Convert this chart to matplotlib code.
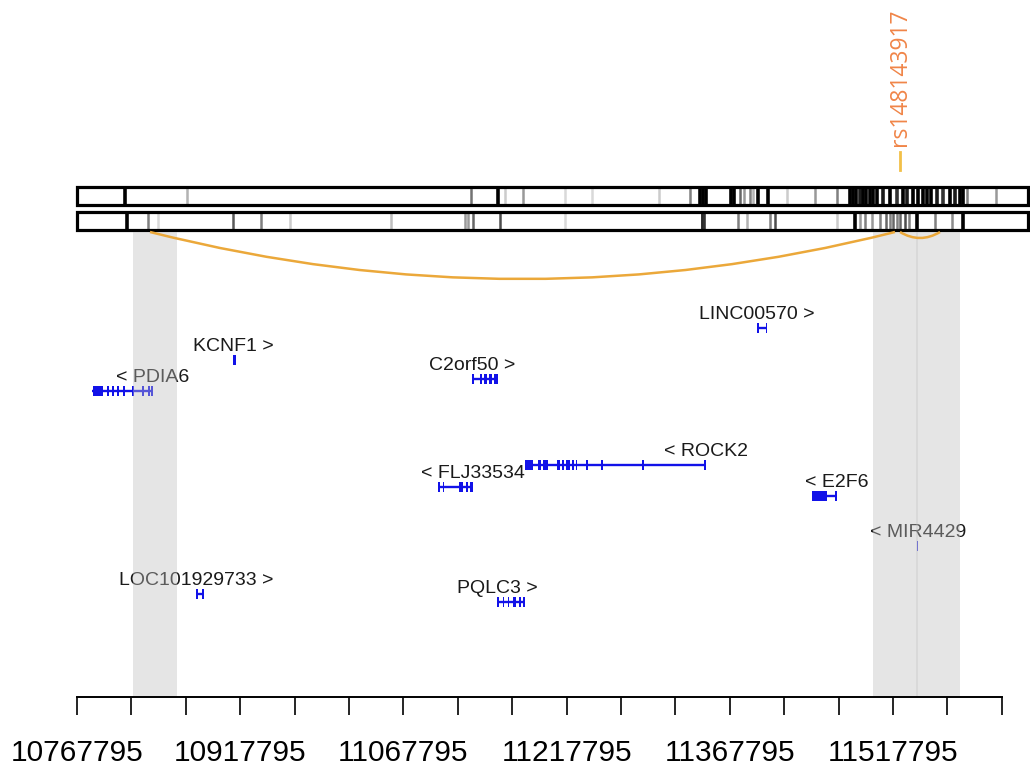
import matplotlib
matplotlib.use("Agg")
import matplotlib.pyplot as plt
from matplotlib.patches import Rectangle, PathPatch
from matplotlib.path import Path

plt.rcParams['font.family'] = ['Liberation Sans', 'DejaVu Sans']

# genomic window (chr2, bp)
axis_start = 10767795
axis_end = 11617795
track_end = 11641900

# genes: name, strand, transcript span
gene_names = ['PDIA6', 'KCNF1', 'LOC101929733', 'C2orf50', 'PQLC3',
              'FLJ33534', 'ROCK2', 'LINC00570', 'E2F6', 'MIR4429']
gene_strand = ['-', '+', '+', '+', '+', '-', '-', '+', '-', '-']
gene_start = [10781600, 10911200, 10877200, 11130800, 11153800,
              11099600, 11179600, 11392800, 11443300, 11539800]
gene_end = [10837600, 10913900, 10884500, 11154700, 11179600,
            11131800, 11345900, 11402000, 11466300, 11540800]

gene_exons = {
    'PDIA6': [(10782500, 10791700), (10795400, 10796900), (10800000, 10801500),
              (10804600, 10806400), (10810100, 10811600), (10818300, 10820200),
              (10827500, 10829000), (10833100, 10834600), (10836100, 10837600)],
    'KCNF1': [(10911200, 10913900)],
    'LOC101929733': [(10877200, 10878600), (10883100, 10884500)],
    'C2orf50': [(11130800, 11132700), (11138200, 11140000), (11141900, 11144600),
                (11146500, 11149200), (11151100, 11154700)],
    'PQLC3': [(11153800, 11155600), (11159300, 11160700), (11163900, 11165300),
              (11168500, 11171300), (11174000, 11175900), (11177700, 11179600)],
    'FLJ33534': [(11099600, 11101400), (11104200, 11105500), (11118900, 11122600),
                 (11125300, 11127200), (11129000, 11131800)],
    'ROCK2': [(11179600, 11186900), (11191500, 11194300), (11196100, 11200700),
              (11209000, 11211700), (11213600, 11215400), (11217200, 11220900),
              (11222800, 11224600), (11226400, 11227800), (11235600, 11237100),
              (11249400, 11250900), (11287100, 11288600), (11344500, 11345900)],
    'LINC00570': [(11392800, 11394200), (11400600, 11402000)],
    'E2F6': [(11443300, 11457100), (11464900, 11466300)],
    'MIR4429': [(11539800, 11540800)],
}

# variant marks in the two upper tracks (position, grey level 0=black)
track1_pos = [10811900, 10868900, 11129900, 11154700, 11161200, 11177700,
              11216300, 11241100, 11302700, 11331200, 11340400, 11343200,
              11345900, 11368900, 11371600, 11377200, 11380800, 11386300,
              11389100, 11393700, 11402900, 11420400, 11446100, 11466300,
              11478300, 11481000, 11483800, 11487500, 11490200, 11493000,
              11496700, 11499400, 11503100, 11508600, 11515000, 11521500,
              11527000, 11530600, 11536200, 11540800, 11545400, 11549000,
              11552700, 11558200, 11563700, 11570200, 11574800, 11579400,
              11582100, 11585800, 11612400]
track1_level = [0.0, 0.7, 0.45, 0.0, 0.8, 0.6,
                0.85, 0.85, 0.8, 0.5, 0.0, 0.0,
                0.0, 0.0, 0.0, 0.4, 0.6, 0.5,
                0.7, 0.0, 0.0, 0.8, 0.6, 0.5,
                0.0, 0.0, 0.0, 0.1, 0.0, 0.0,
                0.0, 0.0, 0.0, 0.1, 0.0, 0.2,
                0.0, 0.1, 0.0, 0.0, 0.0, 0.0,
                0.0, 0.1, 0.2, 0.0, 0.1, 0.0,
                0.0, 0.5, 0.6]
track2_pos = [10813800, 10833100, 10842200, 10911200, 10936900, 10963600,
              11056400, 11124400, 11127200, 11131800, 11156600, 11216300,
              11342700, 11343700, 11375300, 11383600, 11404700, 11409300,
              11466300, 11482900, 11487500, 11491800, 11498500, 11505800,
              11511300, 11515000, 11517800, 11521500, 11524200, 11528800,
              11532500, 11539800, 11556400, 11572000, 11582100]
track2_level = [0.0, 0.5, 0.85, 0.35, 0.5, 0.8,
                0.75, 0.6, 0.6, 0.4, 0.3, 0.85,
                0.0, 0.2, 0.5, 0.7, 0.5, 0.3,
                0.8, 0.0, 0.6, 0.5, 0.6, 0.5,
                0.4, 0.5, 0.4, 0.5, 0.4, 0.3,
                0.5, 0.0, 0.5, 0.55, 0.0]

# highlighted regions and interactions
regions = [(10819300, 10859700), (11499400, 11539800), (11539800, 11579400)]
loops = [(10834900, 11519600, 47), (11524200, 11561000, 6)]
snp_name = 'rs148143917'
snp_pos = 11524200

# layout (vertical positions in pixels, top = 0)
gene_row = {'LINC00570': 328, 'KCNF1': 360, 'C2orf50': 379, 'PDIA6': 391,
            'ROCK2': 465, 'FLJ33534': 487, 'E2F6': 496, 'MIR4429': 546,
            'LOC101929733': 594, 'PQLC3': 602}
bar1 = (187, 205)
bar2 = (212, 230)
axis_y = 697
bp_per_px = 919.1

fig = plt.figure(figsize=(10.3, 7.76), dpi=100)
ax = fig.add_axes([0, 0, 1, 1])
ax.set_xlim(axis_start - 77 * bp_per_px, axis_start + 953 * bp_per_px)
ax.set_ylim(776, 0)

# upper tracks
for (y0, y1), pos, lev in [(bar1, track1_pos, track1_level),
                           (bar2, track2_pos, track2_level)]:
    widths = [2.6 if v < 0.25 else 1.8 for v in lev]
    ax.vlines(pos, y0, y1, colors=[str(v) for v in lev], lw=widths, zorder=2)
    ax.add_patch(Rectangle((axis_start, y0), track_end - axis_start, y1 - y0,
                           fill=False, ec='black', lw=2.3, zorder=3))

# genes
blue = '#1212E8'
for name, strand, s, e in zip(gene_names, gene_strand, gene_start, gene_end):
    y = gene_row[name]
    ax.plot([s, e], [y, y], color=blue, lw=1.7, solid_capstyle='butt', zorder=2)
    for es, ee in gene_exons[name]:
        ax.add_patch(Rectangle((es, y - 5), ee - es, 10, color=blue, lw=0, zorder=2))
    if strand == '+':
        label, tss = f'{name} >', s
    else:
        label, tss = f'< {name}', e
    ax.text(tss, y - 9, label, ha='center', va='baseline', fontsize=14,
            color='#1a1a1a', zorder=3)

# shaded regions drawn over the genes
for s, e in regions:
    ax.add_patch(Rectangle((s, bar2[1] + 2), e - s, axis_y - bar2[1] - 3,
                           color='#BEBEBE', alpha=0.4, lw=0, zorder=4))
# faint seam where the two right-hand regions meet
ax.vlines(regions[1][1], bar2[1] + 2, axis_y - 1, colors='#BEBEBE',
          alpha=0.35, lw=1.2, zorder=4)

# loops below the tracks
for s, e, depth in loops:
    y0 = bar2[1] + 2
    path = Path([(s, y0), ((s + e) / 2, y0 + 2 * depth), (e, y0)],
                [Path.MOVETO, Path.CURVE3, Path.CURVE3])
    ax.add_patch(PathPatch(path, fill=False, ec='#EBA83A', lw=1.8, zorder=5))

# SNP marker
ax.plot([snp_pos, snp_pos], [152, 170], color='#F2C048', lw=2, zorder=5)
ax.text(snp_pos, 146, snp_name, rotation=90, ha='center', va='bottom',
        fontsize=16.5, color='#F08548', family=['Open Sans', 'DejaVu Sans'])

# genomic axis
for side in ['top', 'left', 'right']:
    ax.spines[side].set_visible(False)
ax.spines['bottom'].set_position(('data', axis_y))
ax.spines['bottom'].set_bounds(axis_start, axis_end)
ax.spines['bottom'].set_linewidth(1.4)
ax.set_yticks([])
ax.set_xticks(range(axis_start, axis_end + 1, 150000))
ax.set_xticklabels([str(v) for v in range(axis_start, axis_end + 1, 150000)])
ax.set_xticks(range(axis_start, axis_end + 1, 50000), minor=True)
ax.tick_params(axis='x', which='both', direction='out', length=13, width=1.2,
               color='black')
ax.tick_params(axis='x', which='major', labelsize=21.5, pad=17)
ax.patch.set_visible(False)

fig.savefig('out.png', dpi=100)
